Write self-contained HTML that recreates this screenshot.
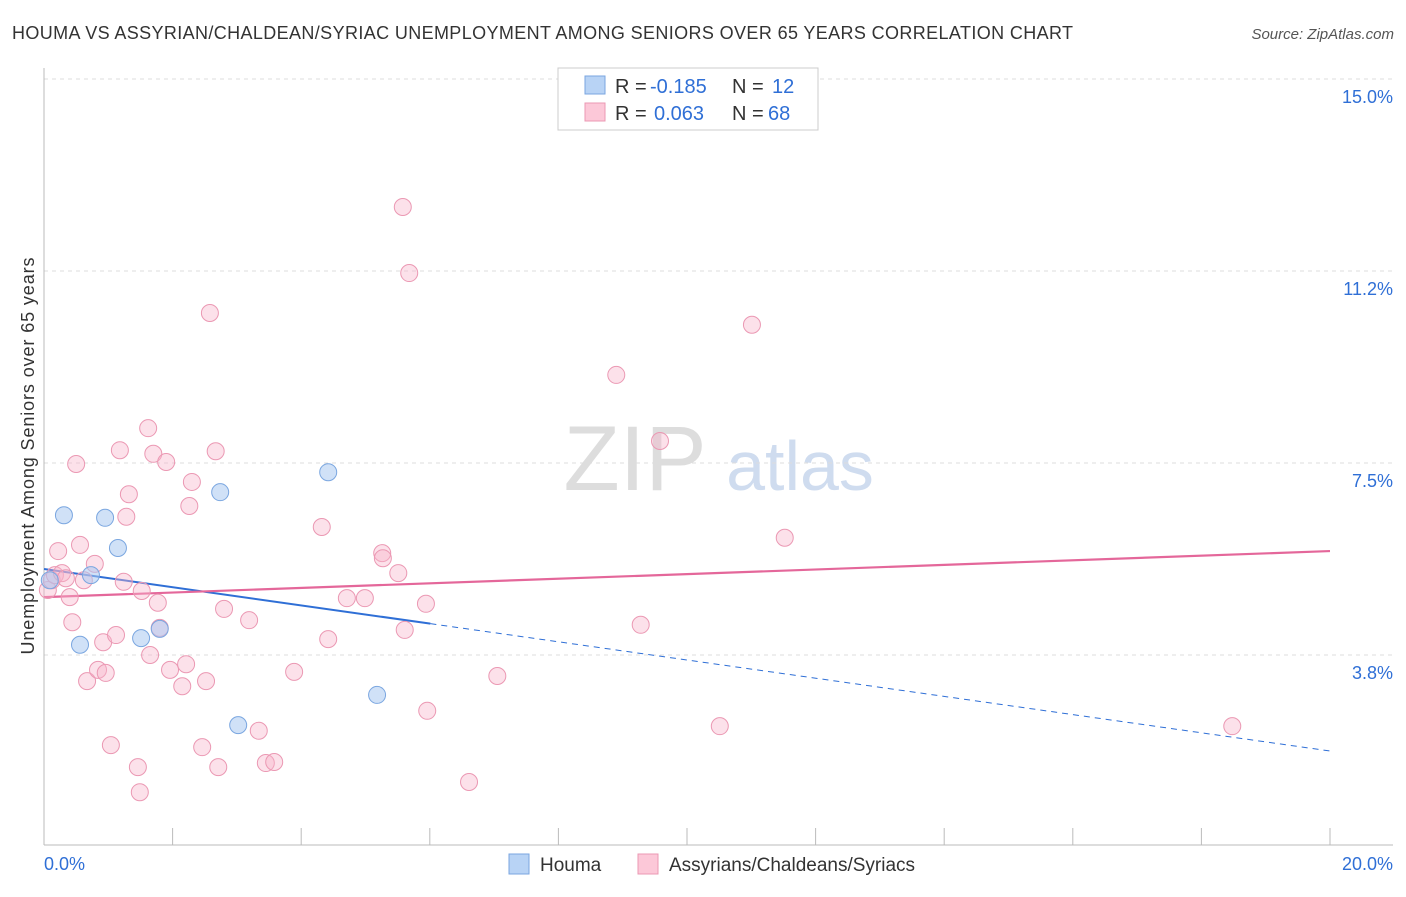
<!DOCTYPE html>
<html><head><meta charset="utf-8">
<style>
body{margin:0;background:#fff;font-family:"Liberation Sans",sans-serif;}
svg text{font-family:"Liberation Sans",sans-serif;}
</style></head>
<body>
<svg id="chart" width="1406" height="892" xmlns="http://www.w3.org/2000/svg">
<text x="12" y="39" font-size="18" fill="#333" textLength="1061" lengthAdjust="spacing">HOUMA VS ASSYRIAN/CHALDEAN/SYRIAC UNEMPLOYMENT AMONG SENIORS OVER 65 YEARS CORRELATION CHART</text>
<text x="1394" y="39" font-size="15" fill="#555" text-anchor="end" font-style="italic">Source: ZipAtlas.com</text>
<g>
<text x="635" y="490" font-size="92" fill="#ddd" text-anchor="middle" font-family="Liberation Serif">ZIP</text>
<text x="800" y="490" font-size="70" fill="#cfdcef" text-anchor="middle">atlas</text>
</g>
<g id="grid"></g>
<g id="axes"></g>
<g id="lines"></g>
<g id="points"></g>
<text transform="translate(34,456) rotate(-90)" font-size="18" fill="#333" text-anchor="middle" textLength="397" lengthAdjust="spacing">Unemployment Among Seniors over 65 years</text>
<g>
<rect x="558" y="68" width="260" height="62" fill="#fff" stroke="#ccc"/>
<rect x="585" y="76" width="20" height="18" fill="#b8d3f5" stroke="#7aa6e0"/>
<rect x="585" y="103" width="20" height="18" fill="#fcc8d8" stroke="#eb98b3"/>
<text x="615" y="93" font-size="20" fill="#333">R = <tspan fill="#2f6fd6" x="650">-0.185</tspan><tspan x="732">N = </tspan><tspan fill="#2f6fd6" x="772">12</tspan></text>
<text x="615" y="120" font-size="20" fill="#333">R = <tspan fill="#2f6fd6" x="654">0.063</tspan><tspan x="732">N = </tspan><tspan fill="#2f6fd6" x="768">68</tspan></text>
</g>
<g>
<rect x="509" y="854" width="20" height="20" fill="#b8d3f5" stroke="#7aa6e0"/>
<text x="540" y="871" font-size="19" fill="#333">Houma</text>
<rect x="638" y="854" width="20" height="20" fill="#fcc8d8" stroke="#eb98b3"/>
<text x="669" y="871" font-size="19" fill="#333">Assyrians/Chaldeans/Syriacs</text>
</g>
</svg>
<script>
const yTicks=[3.75,7.5,11.25,15];
const yTickLabels=["3.8%","7.5%","11.2%","15.0%"];
const xTickLabels=["0.0%","20.0%"];
const houmaX=[0.09,0.31,0.56,0.73,0.95,1.15,1.51,1.80,2.74,3.02,4.42,5.18];
const houmaY=[5.21,6.48,3.95,5.31,6.43,5.84,4.08,4.26,6.93,2.38,7.32,2.97];
const assyrX=[0.06,0.12,0.17,0.22,0.28,0.34,0.40,0.44,0.50,0.56,0.62,0.67,0.79,0.84,0.92,0.96,1.04,1.12,1.18,1.24,1.28,1.32,1.46,1.49,1.52,1.62,1.65,1.70,1.77,1.80,1.90,1.96,2.15,2.21,2.26,2.30,2.46,2.52,2.58,2.67,2.71,2.80,3.19,3.34,3.45,3.58,3.89,4.32,4.42,4.71,4.99,5.26,5.27,5.51,5.58,5.61,5.68,5.94,5.96,6.61,7.05,8.90,9.28,9.58,10.51,11.01,11.52,18.48];
const assyrY=[5.02,5.21,5.31,5.78,5.35,5.25,4.88,4.39,7.48,5.90,5.21,3.24,5.53,3.46,4.00,3.40,1.99,4.14,7.75,5.18,6.45,6.89,1.56,1.07,5.00,8.18,3.75,7.68,4.77,4.28,7.52,3.46,3.14,3.57,6.66,7.13,1.95,3.24,10.43,7.73,1.56,4.65,4.43,2.27,1.64,1.66,3.42,6.25,4.06,4.86,4.86,5.74,5.64,5.35,12.50,4.24,11.21,4.75,2.66,1.27,3.34,9.22,4.34,7.93,2.36,10.20,6.04,2.36];
const houmaTrend=[5.43,1.875];   // y at x=0, y at x=20
const assyrTrend=[4.88,5.78];
const X=v=>44+v*64.3, Y=v=>79+(15-v)*51.2;
const NS="http://www.w3.org/2000/svg";
function mk(tag,attrs,parent){const e=document.createElementNS(NS,tag);for(const k in attrs)e.setAttribute(k,attrs[k]);document.getElementById(parent).appendChild(e);return e;}
yTicks.forEach((t,i)=>{
 const g=mk('line',{x1:44,x2:1393,y1:Y(t),y2:Y(t),stroke:'#ddd','stroke-dasharray':'4,4'},'grid');
 
 
 const l=mk('text',{x:1393,y:Y(t)+24,'font-size':18,fill:'#2f6fd6','text-anchor':'end'},'axes');l.textContent=yTickLabels[i];
 
 
});
const ax=mk('line',{x1:44,x2:1393,y1:845,y2:845,stroke:'#bbb'},'axes');


const ay=mk('line',{x1:44,x2:44,y1:68,y2:845,stroke:'#bbb'},'axes');


for(let i=0;i<=10;i++){const t=mk('line',{x1:X(i*2),x2:X(i*2),y1:828,y2:845,stroke:'#bbb'},'axes');
 
 }
[[0,'start',44],[20,'end',1393]].forEach((d,i)=>{const l=mk('text',{x:d[2],y:870,'font-size':18,fill:'#2f6fd6','text-anchor':d[1]},'axes');l.textContent=xTickLabels[i];
 
 });
assyrX.forEach((x,i)=>{const c=mk('circle',{cx:X(x),cy:Y(assyrY[i]),r:8.5,fill:'rgba(248,180,202,0.4)',stroke:'#eb98b3','stroke-width':1},'points');
 
 });
houmaX.forEach((x,i)=>{const c=mk('circle',{cx:X(x),cy:Y(houmaY[i]),r:8.5,fill:'rgba(170,200,240,0.55)',stroke:'#7aa6e0','stroke-width':1},'points');
 
 });
const hy=x=>houmaTrend[0]+(houmaTrend[1]-houmaTrend[0])*x/20;
const maxH=Math.max(...houmaX)*1.16;
const h1=mk('line',{x1:X(0),y1:Y(hy(0)),x2:X(maxH),y2:Y(hy(maxH)),stroke:'#2f6fd6','stroke-width':2},'lines');


const h2=mk('line',{x1:X(maxH),y1:Y(hy(maxH)),x2:X(20),y2:Y(hy(20)),stroke:'#2f6fd6','stroke-width':1,'stroke-dasharray':'6,5'},'lines');


const p1=mk('line',{x1:X(0),y1:Y(assyrTrend[0]),x2:X(20),y2:Y(assyrTrend[1]),stroke:'#e4679a','stroke-width':2.2},'lines');


</script>
</body></html>
